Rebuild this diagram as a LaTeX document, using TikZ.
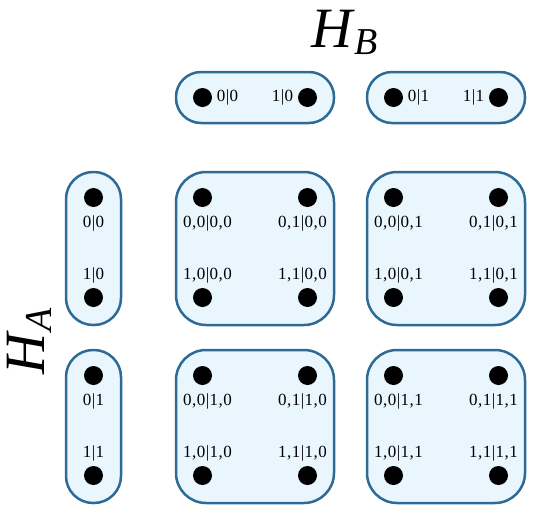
\documentclass[tikz,border=0pt]{standalone}
\usepackage{fontspec}
\setmainfont{Liberation Serif}
\definecolor{edgec}{HTML}{2D6A96}
\definecolor{fillc}{HTML}{EAF6FD}
\newcommand\spc{\kern0.5pt}
\newcommand\quadlab[4]{#1\spc,\spc#2\spc|\spc#3\spc,\spc#4}
\newcommand\pairlab[2]{#1\spc|\spc#2}
\tikzset{
  grp/.style={draw=edgec, fill=fillc, line width=2.5pt, rounded corners=30pt,
    minimum width=158pt, minimum height=153pt, inner sep=0pt},
  pillh/.style={draw=edgec, fill=fillc, line width=2.5pt, rounded corners=25pt,
    minimum width=158pt, minimum height=51pt, inner sep=0pt},
  pillv/.style={draw=edgec, fill=fillc, line width=2.5pt, rounded corners=27pt,
    minimum width=55pt, minimum height=153pt, inner sep=0pt},
  blob/.style={circle, fill=black, minimum size=19pt, inner sep=0pt},
  lab/.style={font=\fontsize{17}{17}\selectfont, inner sep=0pt},
  bigtitle/.style={font=\fontsize{57}{57}\selectfont, inner sep=0pt}
}
\begin{document}
\begin{tikzpicture}[x=1pt,y=-1pt]
\useasboundingbox (0,0) rectangle (536,517);
% titles
\node[bigtitle, anchor=base west] (HB) at (311,47) {\textit{H}\raisebox{-7pt}{\fontsize{38}{38}\selectfont\textit{B}}};
\node[bigtitle, rotate=90, anchor=base west] (HA) at (44,375) {\textit{H}\raisebox{-7pt}{\fontsize{38}{38}\selectfont\textit{A}}};
% top pills (H_B)
\foreach \c/\cx in {0/255,1/446}{
  \node[pillh] (top\c) at (\cx,97.5) {};
  \node[blob] (topd\c0) at (\cx-52.5,97.5) {};
  \node[blob] (topd\c1) at (\cx+52.5,97.5) {};
  \node[lab] (topl\c0) at (\cx-27.5,97.5) {\pairlab{0}{\c}};
  \node[lab] (topl\c1) at (\cx+27.5,97.5) {\pairlab{1}{\c}};
}
% left pills (H_A)
\foreach \r/\ry in {0/248.5,1/426.5}{
  \node[pillv] (left\r) at (93.5,\ry) {};
  \node[blob] (leftd\r0) at (93.5,\ry-51) {};
  \node[blob] (leftd\r1) at (93.5,\ry+49) {};
  \node[lab] (leftl\r0) at (93.5,\ry-25.5) {\pairlab{0}{\r}};
  \node[lab] (leftl\r1) at (93.5,\ry+27) {\pairlab{1}{\r}};
}
% product boxes
\foreach \r/\ry in {0/248.5,1/426.5}{
  \foreach \c/\cx in {0/255,1/446}{
    \node[grp] (box\r\c) at (\cx,\ry) {};
    \node[blob] (d\r\c00) at (\cx-52.5,\ry-51) {};
    \node[blob] (d\r\c01) at (\cx+52.5,\ry-51) {};
    \node[blob] (d\r\c10) at (\cx-52.5,\ry+49) {};
    \node[blob] (d\r\c11) at (\cx+52.5,\ry+49) {};
    \node[lab] (l\r\c00) at (\cx-47.5,\ry-25.5) {\quadlab{0}{0}{\r}{\c}};
    \node[lab] (l\r\c01) at (\cx+47.5,\ry-25.5) {\quadlab{0}{1}{\r}{\c}};
    \node[lab] (l\r\c10) at (\cx-47.5,\ry+27) {\quadlab{1}{0}{\r}{\c}};
    \node[lab] (l\r\c11) at (\cx+47.5,\ry+27) {\quadlab{1}{1}{\r}{\c}};
  }
}
\end{tikzpicture}
\end{document}
